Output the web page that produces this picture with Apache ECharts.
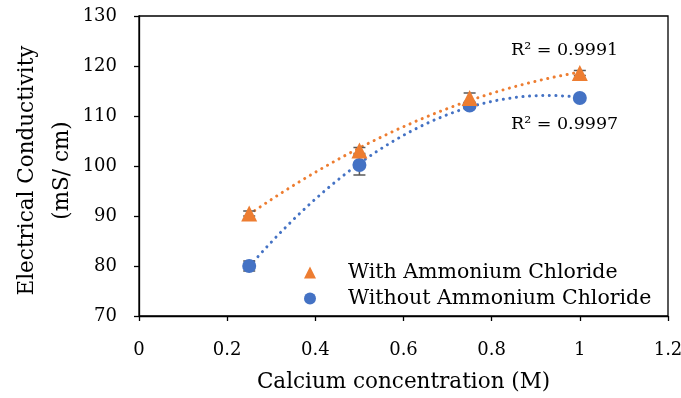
<!DOCTYPE html>
<html>
<head>
<meta charset="utf-8">
<script src="https://cdn.jsdelivr.net/npm/echarts@6/dist/echarts.min.js"></script>
<style>html,body{margin:0;padding:0;background:#fff}#c{width:681px;height:398px}</style>
</head>
<body>
<div id="c"></div>
<script>
var concentration = [0.25, 0.5, 0.75, 1];
var withNH4Cl = [90.5, 103.1, 113.6, 118.6];
var withNH4ClErr = [0.5, 0.6, 1.0, 0.5];
var withoutNH4Cl = [80.0, 100.2, 112.1, 113.6];
var withoutNH4ClErr = [1.0, 2.0, 0.6, 0.3];
var seriesNames = ['With Ammonium Chloride', 'Without Ammonium Chloride'];
var r2Labels = ['R² = 0.9991', 'R² = 0.9997'];
var xTicks = [0, 0.2, 0.4, 0.6, 0.8, 1, 1.2];
var yTicks = [70, 80, 90, 100, 110, 120, 130];

var ORANGE = '#ED7D31', BLUE = '#4472C4';
var FONT = 'DejaVu Serif';

// Quadratic least-squares trendline (as in the original spreadsheet chart)
function polyfit2(xs, ys) {
  var n = xs.length, s = [0,0,0,0,0], t = [0,0,0];
  for (var i = 0; i < n; i++) {
    var x = xs[i], y = ys[i];
    for (var k = 0; k <= 4; k++) s[k] += Math.pow(x, k);
    for (var k2 = 0; k2 <= 2; k2++) t[k2] += y * Math.pow(x, k2);
  }
  var A = [[s[0], s[1], s[2], t[0]], [s[1], s[2], s[3], t[1]], [s[2], s[3], s[4], t[2]]];
  for (var c = 0; c < 3; c++) {
    for (var r = c + 1; r < 3; r++) {
      var f = A[r][c] / A[c][c];
      for (var j = c; j < 4; j++) A[r][j] -= f * A[c][j];
    }
  }
  var b = [0,0,0];
  for (var r2 = 2; r2 >= 0; r2--) {
    var v = A[r2][3];
    for (var j2 = r2 + 1; j2 < 3; j2++) v -= A[r2][j2] * b[j2];
    b[r2] = v / A[r2][r2];
  }
  return b;
}
function trend(xs, ys) {
  var b = polyfit2(xs, ys), out = [];
  var x0 = xs[0], x1 = xs[xs.length - 1];
  for (var i = 0; i <= 60; i++) {
    var x = x0 + (x1 - x0) * i / 60;
    out.push([x, b[0] + b[1] * x + b[2] * x * x]);
  }
  return out;
}
function pairs(xs, ys) { return xs.map(function (x, i) { return [x, ys[i]]; }); }
function errData(xs, ys, es) { return xs.map(function (x, i) { return [x, ys[i] - es[i], ys[i] + es[i]]; }); }

function errRender(params, api) {
  var x = api.value(0);
  var lo = api.coord([x, api.value(1)]);
  var hi = api.coord([x, api.value(2)]);
  var w = 6;
  var st = { stroke: '#595959', lineWidth: 1.5 };
  return { type: 'group', children: [
    { type: 'line', shape: { x1: lo[0], y1: lo[1], x2: hi[0], y2: hi[1] }, style: st },
    { type: 'line', shape: { x1: lo[0] - w, y1: lo[1], x2: lo[0] + w, y2: lo[1] }, style: st },
    { type: 'line', shape: { x1: hi[0] - w, y1: hi[1], x2: hi[0] + w, y2: hi[1] }, style: st }
  ]};
}

var chart = echarts.init(document.getElementById('c'), null, { renderer: 'canvas' });
var dotted = { width: 3, type: [0.1, 6.5], cap: 'round' };
chart.setOption({
  animation: false,
  textStyle: { fontFamily: FONT },
  grid: { left: 139, right: 13, top: 16, bottom: 82, show: true, borderColor: '#000', borderWidth: 1.3,
    containLabel: false, outerBoundsMode: 'none' },
  xAxis: {
    type: 'value', min: 0, max: 1.2, interval: 0.2,
    name: 'Calcium concentration (M)', nameLocation: 'middle', nameGap: 55, nameMoveOverlap: false,
    nameTextStyle: { fontFamily: FONT, fontSize: 21.5, color: '#000' },
    axisLine: { lineStyle: { color: '#000', width: 1.3 } },
    axisTick: { show: true, length: 5, lineStyle: { color: '#000', width: 1.3 } },
    axisLabel: { margin: 25, fontFamily: FONT, fontSize: 18, color: '#000',
      formatter: function (v) { return String(Math.round(v * 10) / 10); } },
    splitLine: { show: false }
  },
  yAxis: {
    type: 'value', min: 70, max: 130, interval: 10,
    name: 'Electrical Conductivity\n(mS/ cm)', nameLocation: 'middle', nameGap: 59, nameRotate: 90, nameMoveOverlap: false,
    nameTextStyle: { fontFamily: FONT, fontSize: 21.5, color: '#000', lineHeight: 35, padding: [0, 9, 0, 0] },
    axisLine: { show: true, lineStyle: { color: '#000', width: 1.3 } },
    axisTick: { show: true, length: 5, lineStyle: { color: '#000', width: 1.3 } },
    axisLabel: { margin: 22, fontFamily: FONT, fontSize: 18, color: '#000' },
    splitLine: { show: false }
  },
  legend: {
    orient: 'vertical', left: 299, top: 257, itemGap: 5, itemWidth: 12, itemHeight: 12,
    data: [ { name: seriesNames[0], icon: 'triangle' }, { name: seriesNames[1], icon: 'circle' } ],
    textStyle: { fontFamily: FONT, fontSize: 20.5, color: '#000', padding: [0, 0, 0, 27] }
  },
  series: [
    { type: 'line', data: trend(concentration, withNH4Cl), showSymbol: false, symbol: 'none',
      lineStyle: Object.assign({ color: ORANGE }, dotted), silent: true, z: 1 },
    { type: 'line', data: trend(concentration, withoutNH4Cl), showSymbol: false, symbol: 'none',
      lineStyle: Object.assign({ color: BLUE }, dotted), silent: true, z: 1 },
    { type: 'custom', renderItem: errRender, data: errData(concentration, withNH4Cl, withNH4ClErr), z: 2, silent: true },
    { type: 'custom', renderItem: errRender, data: errData(concentration, withoutNH4Cl, withoutNH4ClErr), z: 2, silent: true },
    { name: seriesNames[1], type: 'scatter', data: pairs(concentration, withoutNH4Cl), symbol: 'circle', symbolSize: 14,
      itemStyle: { color: BLUE, opacity: 1 }, z: 3 },
    { name: seriesNames[0], type: 'scatter', data: pairs(concentration, withNH4Cl), symbol: 'triangle', symbolSize: 16,
      itemStyle: { color: ORANGE, opacity: 1 }, z: 4 }
  ],
  graphic: [
    { type: 'text', left: 511, top: 41, style: { text: r2Labels[0], font: '17.5px "DejaVu Serif"', fill: '#000' } },
    { type: 'text', left: 511, top: 115, style: { text: r2Labels[1], font: '17.5px "DejaVu Serif"', fill: '#000' } }
  ]
});
</script>
</body>
</html>
